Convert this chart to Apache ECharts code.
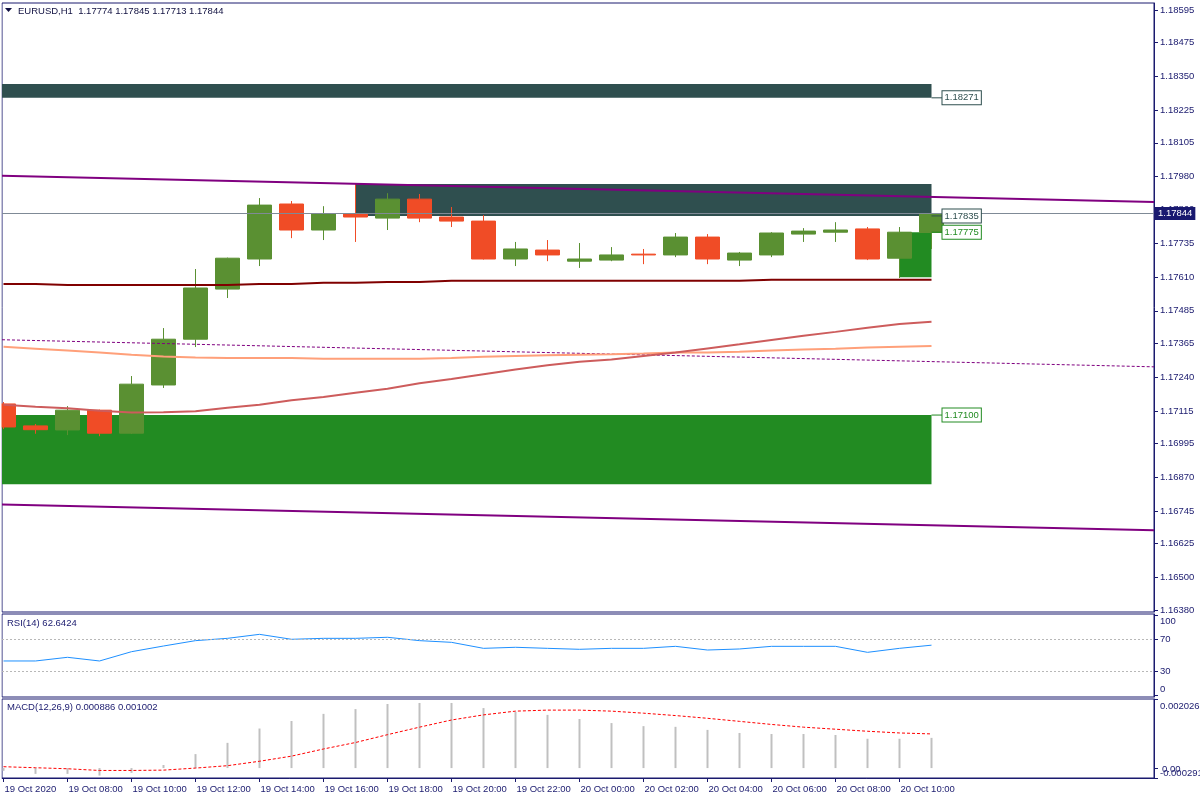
<!DOCTYPE html>
<html><head><meta charset="utf-8">
<script src="https://cdn.jsdelivr.net/npm/echarts@6/dist/echarts.min.js"></script>
<style>html,body{margin:0;padding:0;background:#fff}#c{width:1200px;height:800px}</style>
</head><body><div id="c"></div>
<script>
// ---------------- data ----------------
const symbolName = 'EURUSD,H1';
const times = ['19 Oct 06:00','19 Oct 07:00','19 Oct 08:00','19 Oct 09:00','19 Oct 10:00','19 Oct 11:00','19 Oct 12:00','19 Oct 13:00','19 Oct 14:00','19 Oct 15:00',
  '19 Oct 16:00','19 Oct 17:00','19 Oct 18:00','19 Oct 19:00','19 Oct 20:00','19 Oct 21:00','19 Oct 22:00','19 Oct 23:00','20 Oct 00:00','20 Oct 01:00',
  '20 Oct 02:00','20 Oct 03:00','20 Oct 04:00','20 Oct 05:00','20 Oct 06:00','20 Oct 07:00','20 Oct 08:00','20 Oct 09:00','20 Oct 10:00','20 Oct 11:00'];
const opens  = [1.17141,1.17060,1.17045,1.17118,1.17033,1.17211,1.17380,1.17565,1.17676,1.17879,1.17783,1.17842,1.17827,1.17897,1.17831,1.17816,1.17676,1.17709,1.17668,1.17672,1.17694,1.17691,1.17757,1.17672,1.17691,1.17768,1.17775,1.17787,1.17679,1.17774];
const highs  = [1.17148,1.17067,1.17133,1.17120,1.17244,1.17421,1.17639,1.17681,1.17901,1.17890,1.17871,1.17953,1.17919,1.17916,1.17868,1.17838,1.17739,1.17746,1.17735,1.17720,1.17713,1.17772,1.17768,1.17702,1.17775,1.17790,1.17812,1.17794,1.17794,1.17845];
const lows   = [1.17048,1.17031,1.17026,1.17022,1.17030,1.17200,1.17351,1.17532,1.17650,1.17753,1.17746,1.17739,1.17783,1.17812,1.17794,1.17674,1.17650,1.17668,1.17643,1.17668,1.17657,1.17683,1.17657,1.17650,1.17683,1.17739,1.17739,1.17672,1.17606,1.17713];
const closes = [1.17056,1.17046,1.17118,1.17033,1.17214,1.17380,1.17569,1.17679,1.17875,1.17783,1.17842,1.17831,1.17897,1.17827,1.17816,1.17676,1.17713,1.17691,1.17676,1.17691,1.17691,1.17757,1.17676,1.17698,1.17772,1.17779,1.17783,1.17676,1.17775,1.17844];

const maMaroon = [1.17584,1.17584,1.17580,1.17580,1.17580,1.17580,1.17580,1.17580,1.17584,1.17584,1.17588,1.17588,1.17591,1.17591,1.17596,1.17596,1.17596,1.17596,1.17596,1.17596,1.17596,1.17596,1.17596,1.17596,1.17599,1.17599,1.17599,1.17599,1.17599,1.17599];
const maSalmon = [1.17352,1.17345,1.17338,1.17331,1.17323,1.17316,1.17312,1.17311,1.17311,1.17311,1.17308,1.17308,1.17308,1.17308,1.17311,1.17315,1.17318,1.17321,1.17323,1.17324,1.17327,1.17331,1.17331,1.17334,1.17338,1.17342,1.17345,1.17349,1.17352,1.17355];
const maIndian = [1.17138,1.17131,1.17125,1.17116,1.17109,1.17110,1.17114,1.17127,1.17138,1.17155,1.17167,1.17182,1.17197,1.17217,1.17233,1.17251,1.17268,1.17284,1.17297,1.17305,1.17318,1.17331,1.17346,1.17361,1.17377,1.17393,1.17407,1.17422,1.17436,1.17444];

// regression channel, prices at the left and right edge of the chart
const channelUpper  = [1.17983, 1.17886];
const channelCenter = [1.17378, 1.17278];
const channelLower  = [1.16770, 1.16675];

const bidPrice = 1.17844;

// rectangle objects
const zoneStart = [-1, 11, -1, 28];
const zoneEnd   = [29, 29, 29, 29];
const zoneP1    = [1.18322, 1.17953, 1.16845, 1.17609];
const zoneP2    = [1.18271, 1.17835, 1.17100, 1.17775];
const zoneColor = ['#2F4F4F', '#2F4F4F', '#228B22', '#228B22'];

const priceTicks = [1.18595,1.18475,1.18350,1.18225,1.18105,1.17980,1.17860,1.17735,1.17610,1.17485,1.17365,1.17240,1.17115,1.16995,1.16870,1.16745,1.16625,1.16500,1.16380];
const PRICE_MIN = 1.16373, PRICE_MAX = 1.18621;

const rsi = [42.9,42.9,47.5,42.9,54.5,61.6,68.3,71.2,76.2,70.0,71.2,71.2,72.5,68.3,66.2,58.7,60.0,58.7,57.5,58.7,58.7,61.2,56.6,57.9,61.2,61.2,61.2,53.7,58.7,62.6424];
const rsiLevels = [30, 70];
const rsiTicks = [0, 30, 70, 100];

const macdHist = [-0.00008,-0.00017,-0.00017,-0.00022,-0.00014,0.00009,0.00041,0.00074,0.00116,0.00138,0.00159,0.00173,0.00188,0.00191,0.00191,0.00176,0.00165,0.00156,0.00144,0.00132,0.00123,0.00121,0.00112,0.00103,0.00100,0.00100,0.00097,0.00086,0.00086,0.000886];
const macdSignal = [0.00004,0.00001,-0.00002,-0.00007,-0.00007,-0.00006,0.00000,0.00007,0.00020,0.00035,0.00056,0.00075,0.00098,0.00120,0.00141,0.00156,0.00167,0.00170,0.00170,0.00167,0.00161,0.00154,0.00146,0.00137,0.00128,0.00120,0.00114,0.00108,0.00103,0.001002];
const macdMin = -0.000291, macdMax = 0.002026;

const timeTickAt = ['19 Oct 06:00','19 Oct 08:00','19 Oct 10:00','19 Oct 12:00','19 Oct 14:00','19 Oct 16:00','19 Oct 18:00','19 Oct 20:00','19 Oct 22:00','20 Oct 00:00','20 Oct 02:00','20 Oct 04:00','20 Oct 06:00','20 Oct 08:00','20 Oct 10:00'];
const timeTickLabels = ['19 Oct 2020','19 Oct 08:00','19 Oct 10:00','19 Oct 12:00','19 Oct 14:00','19 Oct 16:00','19 Oct 18:00','19 Oct 20:00','19 Oct 22:00','20 Oct 00:00','20 Oct 02:00','20 Oct 04:00','20 Oct 06:00','20 Oct 08:00','20 Oct 10:00'];

// ---------------- layout / style ----------------
const FONT = 'Liberation Sans';
const FS = 9.5;
const NAVY = '#1a1a6e';
const TXT = '#1a1a6e';
const BULL = '#5A9032', BEAR = '#F04C26';
const GRID_L = 2, GRID_R = 1154, SLOT = 32, FIRST_X = 3.5;
const xMin = (GRID_L - FIRST_X) / SLOT;
const xMax = (GRID_R - FIRST_X) / SLOT;

const tickIdx = timeTickAt.map(t => times.indexOf(t));
const lastIdx = times.length - 1;
const near = (a, b) => Math.abs(a - b) < 1e-9;

const candleData = times.map((t, i) => [i, opens[i], closes[i], lows[i], highs[i]]);
const seriesOf = arr => arr.map((v, i) => [i, v]);
const edgeLine = arr => [[xMin, arr[0]], [xMax, arr[1]]];

const zoneData = zoneStart.map((s, k) => [s, zoneEnd[k], zoneP1[k], zoneP2[k], k]);
const zoneLabelData = zoneEnd.map((e, k) => [e, zoneP2[k], k]);

const chart = echarts.init(document.getElementById('c'), null, {renderer: 'canvas'});

const gridBase = {left: GRID_L, width: GRID_R - GRID_L, show: true, borderColor: NAVY, borderWidth: 1, backgroundColor: '#fff',
  containLabel: false, outerBoundsMode: 'none'};
const hiddenX = gi => ({type: 'value', gridIndex: gi, min: xMin, max: xMax, show: false, axisLine: {onZero: false}});

const lbl = {fontFamily: FONT, fontSize: FS, color: TXT};

const option = {
  animation: false,
  backgroundColor: '#fff',
  textStyle: {fontFamily: FONT},
  grid: [
    Object.assign({top: 3, height: 609}, gridBase),
    Object.assign({top: 614, height: 83}, gridBase),
    Object.assign({top: 699, height: 79}, gridBase)
  ],
  xAxis: [
    hiddenX(0), hiddenX(1),
    {type: 'value', gridIndex: 2, min: xMin, max: xMax, position: 'bottom',
      axisLine: {show: true, onZero: false, lineStyle: {color: NAVY, width: 1}},
      axisTick: {show: true, customValues: tickIdx, length: 4, lineStyle: {color: NAVY}},
      axisLabel: Object.assign({customValues: tickIdx, align: 'left', margin: 6, padding: [0, 0, 0, 1],
        formatter: v => timeTickLabels[tickIdx.indexOf(Math.round(v))] || ''}, lbl),
      splitLine: {show: false}}
  ],
  yAxis: [
    {type: 'value', gridIndex: 0, position: 'right', min: PRICE_MIN, max: PRICE_MAX,
      axisLine: {show: true, onZero: false, lineStyle: {color: NAVY}},
      axisTick: {show: true, customValues: priceTicks, length: 4, lineStyle: {color: NAVY}},
      axisLabel: Object.assign({customValues: priceTicks, margin: 6, showMinLabel: true, showMaxLabel: true, formatter: v => v.toFixed(5)}, lbl),
      splitLine: {show: false}},
    {type: 'value', gridIndex: 1, position: 'right', min: -2.1, max: 101.6,
      axisLine: {show: true, onZero: false, lineStyle: {color: NAVY}},
      axisTick: {show: true, customValues: rsiTicks, length: 4, lineStyle: {color: NAVY}},
      axisLabel: Object.assign({customValues: rsiTicks, margin: 6, showMinLabel: true, showMaxLabel: true,
        formatter: v => near(v, 100) ? '{t|100}' : (near(v, 0) ? '{b|0}' : '{m|' + Math.round(v) + '}'),
        rich: {t: Object.assign({padding: [13, 0, 0, 0]}, lbl), b: Object.assign({padding: [0, 0, 11, 0]}, lbl), m: Object.assign({}, lbl)}}, lbl),
      splitLine: {show: false}},
    {type: 'value', gridIndex: 2, position: 'right', min: macdMin, max: macdMax,
      axisLine: {show: true, onZero: false, lineStyle: {color: NAVY}},
      axisTick: {show: true, customValues: [macdMin, macdMax], length: 4, lineStyle: {color: NAVY}},
      axisLabel: Object.assign({customValues: [macdMin, macdMax], margin: 6, showMinLabel: true, showMaxLabel: true,
        formatter: v => near(v, macdMax) ? '{t|' + macdMax.toFixed(6) + '}' : '{b|' + macdMin.toFixed(6) + '}',
        rich: {t: Object.assign({padding: [14, 0, 0, 0]}, lbl), b: Object.assign({padding: [0, 0, 10, 0]}, lbl)}}, lbl),
      splitLine: {show: false}},
    {type: 'value', gridIndex: 2, position: 'right', min: macdMin, max: macdMax,
      axisLine: {show: false, onZero: false},
      axisTick: {show: true, customValues: [0], length: 4, lineStyle: {color: NAVY}},
      axisLabel: Object.assign({customValues: [0], margin: 8, showMinLabel: true, showMaxLabel: true,
        formatter: () => '{z|0.00}', rich: {z: Object.assign({padding: [3, 0, 0, 0]}, lbl)}}, lbl),
      splitLine: {show: false}}
  ],
  graphic: [
    {type: 'polygon', shape: {points: [[5, 8], [12, 8], [8.5, 12]]}, style: {fill: '#101040'}},
    {type: 'text', x: 18, y: 11, style: {text: symbolName + '  ' + [opens[lastIdx], highs[lastIdx], lows[lastIdx], closes[lastIdx]].map(v => v.toFixed(5)).join(' '),
      font: FS + 'px ' + FONT, fill: '#101040', verticalAlign: 'middle'}},
    {type: 'text', x: 7, y: 623, style: {text: 'RSI(14) ' + rsi[lastIdx].toFixed(4), font: FS + 'px ' + FONT, fill: TXT, verticalAlign: 'middle'}},
    {type: 'text', x: 7, y: 707, style: {text: 'MACD(12,26,9) ' + macdHist[lastIdx].toFixed(6) + ' ' + macdSignal[lastIdx].toFixed(6), font: FS + 'px ' + FONT, fill: TXT, verticalAlign: 'middle'}},
    {type: 'rect', z: 100, shape: {x: 0, y: 0, width: 1.5, height: 800}, style: {fill: '#fff'}}
  ],
  series: [
    {name: 'zones', type: 'custom', xAxisIndex: 0, yAxisIndex: 0, z: 1, silent: true,
      data: zoneData, encode: {x: [0, 1], y: [2, 3]},
      renderItem: (params, api) => {
        const a = api.coord([api.value(0), api.value(2)]);
        const b = api.coord([api.value(1), api.value(3)]);
        const cs = params.coordSys;
        const r = echarts.graphic.clipRectByRect(
          {x: Math.min(a[0], b[0]), y: Math.min(a[1], b[1]), width: Math.abs(b[0] - a[0]), height: Math.abs(b[1] - a[1])},
          {x: cs.x, y: cs.y, width: cs.width, height: cs.height});
        return r && {type: 'rect', shape: r, style: {fill: zoneColor[api.value(4)]}};
      }},
    {name: 'price', type: 'candlestick', xAxisIndex: 0, yAxisIndex: 0, z: 3,
      data: candleData, encode: {x: 0, y: [1, 2, 3, 4]}, barWidth: 24, clip: true,
      itemStyle: {color: BULL, color0: BEAR, borderColor: BULL, borderColor0: BEAR, borderWidth: 1},
      markLine: {silent: true, symbol: ['none', 'none'], animation: false, precision: 5,
        lineStyle: {color: '#7f8a96', width: 1, type: 'solid'},
        label: {show: true, position: 'end', distance: 1, formatter: p => Number(p.value).toFixed(5),
          backgroundColor: '#191970', color: '#fff', fontFamily: FONT, fontSize: FS, padding: [2, 3, 1, 3]},
        data: [{yAxis: bidPrice}]}},
    {name: 'channelUpper', type: 'line', xAxisIndex: 0, yAxisIndex: 0, z: 4, data: edgeLine(channelUpper), showSymbol: false, silent: true, lineStyle: {color: '#800080', width: 2}},
    {name: 'channelCenter', type: 'line', xAxisIndex: 0, yAxisIndex: 0, z: 4, data: edgeLine(channelCenter), showSymbol: false, silent: true, lineStyle: {color: '#800080', width: 1, type: [3, 2]}},
    {name: 'channelLower', type: 'line', xAxisIndex: 0, yAxisIndex: 0, z: 4, data: edgeLine(channelLower), showSymbol: false, silent: true, lineStyle: {color: '#800080', width: 2}},
    {name: 'maMaroon', type: 'line', xAxisIndex: 0, yAxisIndex: 0, z: 4, data: seriesOf(maMaroon), showSymbol: false, silent: true, lineStyle: {color: '#800000', width: 2}},
    {name: 'maSalmon', type: 'line', xAxisIndex: 0, yAxisIndex: 0, z: 4, data: seriesOf(maSalmon), showSymbol: false, silent: true, lineStyle: {color: '#FFA07A', width: 2}},
    {name: 'maIndian', type: 'line', xAxisIndex: 0, yAxisIndex: 0, z: 4, data: seriesOf(maIndian), showSymbol: false, silent: true, lineStyle: {color: '#CD5C5C', width: 2}},
    {name: 'zoneLabels', type: 'custom', xAxisIndex: 0, yAxisIndex: 0, z: 6, silent: true,
      data: zoneLabelData, encode: {x: 0, y: 1},
      renderItem: (params, api) => {
        const p = api.coord([api.value(0), api.value(1)]);
        const col = zoneColor[api.value(2)];
        return {type: 'group', children: [
          {type: 'line', shape: {x1: p[0], y1: p[1], x2: p[0] + 11, y2: p[1]}, style: {stroke: col, lineWidth: 1}},
          {type: 'text', x: p[0] + 11, y: p[1], style: {text: api.value(1).toFixed(5), fill: col, font: FS + 'px ' + FONT,
            align: 'left', verticalAlign: 'middle', backgroundColor: '#fff', borderColor: col, borderWidth: 1, padding: [2, 2, 1, 2]}}
        ]};
      }},
    {name: 'RSI', type: 'line', xAxisIndex: 1, yAxisIndex: 1, data: seriesOf(rsi), showSymbol: false, silent: true,
      lineStyle: {color: '#1E90FF', width: 1},
      markLine: {silent: true, symbol: ['none', 'none'], precision: 2, label: {show: false}, lineStyle: {color: '#B8B8B8', width: 1, type: [2, 2]},
        data: rsiLevels.map(v => ({yAxis: v}))}},
    {name: 'MACD', type: 'bar', xAxisIndex: 2, yAxisIndex: 2, data: seriesOf(macdHist), barWidth: 2, silent: true,
      itemStyle: {color: '#C0C0C0'}},
    {name: 'Signal', type: 'line', xAxisIndex: 2, yAxisIndex: 2, data: seriesOf(macdSignal), showSymbol: false, silent: true,
      lineStyle: {color: '#FF0000', width: 1, type: [3, 2]}}
  ]
};
chart.setOption(option);
</script>
</body></html>
